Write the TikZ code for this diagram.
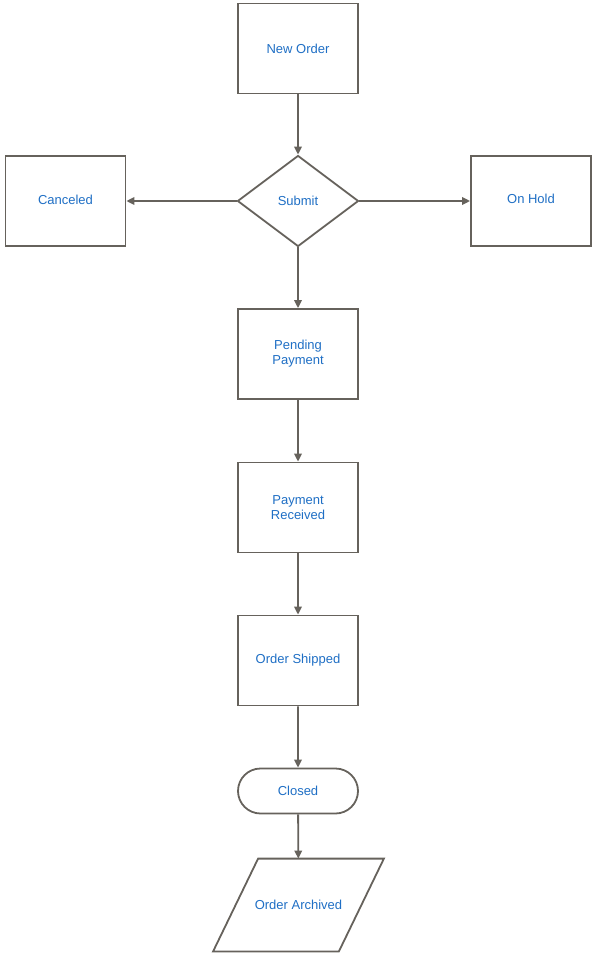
\documentclass[tikz,border=0pt]{standalone}
\usepackage{fontspec}
\setmainfont{Liberation Sans}
\usetikzlibrary{arrows.meta,shapes.geometric,shapes.misc}
\definecolor{linec}{HTML}{66625C}
\definecolor{textc}{HTML}{1F6FC5}
\tikzset{
  base/.style={draw=linec, line width=1.8pt, fill=white, text=textc, align=center,
    font=\fontsize{13}{15}\selectfont, inner sep=0pt},
  box/.style={base, rectangle, minimum width=120pt, minimum height=90pt},
  dec/.style={base, diamond, minimum width=121pt, minimum height=91pt},
  term/.style={base, rounded rectangle, minimum width=120pt, minimum height=45pt},
  iotext/.style={base, draw=none, fill=none, rectangle, minimum width=124pt, minimum height=91pt},
  shape line/.style={draw=linec, line width=1.8pt, fill=white},
  conn/.style={draw=linec, line width=1.8pt, -{Triangle[length=8pt,width=7.5pt]}}
}
\begin{document}
\begin{tikzpicture}[x=1pt,y=-1pt]
\useasboundingbox (0,0) rectangle (595,955);
\node[box] (new) at (298,48.5) {New Order};
\node[dec] (submit) at (298,201) {Submit};
\node[box] (cancel) at (65.5,201) {\raisebox{2pt}{Canceled}};
\node[box] (hold) at (531,201) {\raisebox{4pt}{On Hold}};
\node[box] (pending) at (298,354) {Pending\\Payment};
\node[box] (received) at (298,507.5) {Payment\\Received};
\node[box] (shipped) at (298,660.5) {Order Shipped};
\node[term] (closed) at (298,791) {Closed};
\node[iotext] (archived) at (298.5,905) {};
\draw[shape line] ([xshift=22.5pt]archived.north west) -- ([xshift=22.5pt]archived.north east)
  -- ([xshift=-22.5pt]archived.south east) -- ([xshift=-22.5pt]archived.south west) -- cycle;
\node[base, draw=none, fill=none] (archivedlabel) at (archived.center) {Order Archived};
\draw[conn] (new) -- (submit);
\draw[conn] (submit) -- (cancel);
\draw[conn] (submit) -- (hold);
\draw[conn] (submit) -- (pending);
\draw[conn] (pending) -- (received);
\draw[conn] (received) -- (shipped);
\draw[conn] (shipped) -- (closed);
\draw[conn] (closed) -- (archived);
\end{tikzpicture}
\end{document}
